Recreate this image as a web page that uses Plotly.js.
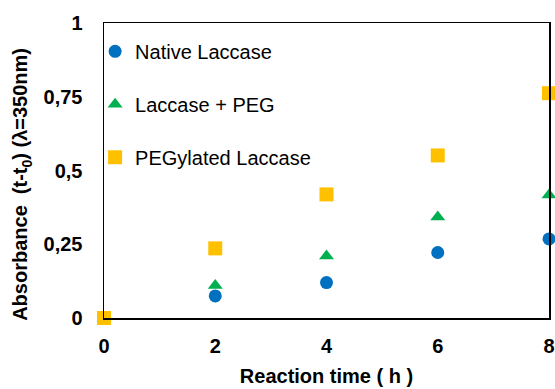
<!DOCTYPE html>
<html>
<head>
<meta charset="utf-8">
<script src="https://cdn.plot.ly/plotly-3.0.1.min.js"></script>
<style>html,body{margin:0;padding:0;background:#fff;}#chart{width:555px;height:389px;}</style>
</head>
<body>
<div id="chart"></div>
<script>
const timeH = [0, 2, 4, 6, 8];
const nativeLaccase = [0, 0.075, 0.12, 0.222, 0.268];
const laccasePEG = [0, 0.11, 0.21, 0.342, 0.417];
const pegylatedLaccase = [0, 0.236, 0.419, 0.551, 0.762];
const seriesNames = ['Native Laccase', 'Laccase + PEG', 'PEGylated Laccase'];
const xTicks = [0, 2, 4, 6, 8];
const yTicks = [0, 0.25, 0.5, 0.75, 1];
const yTickText = ['0', '0,25', '0,5', '0,75', '1'];

const font = 'Arial, "Liberation Sans", sans-serif';
const traces = [
  {x: timeH, y: nativeLaccase, name: seriesNames[0], legendgroup: 'a', type: 'scatter', mode: 'markers', cliponaxis: false,
   marker: {symbol: 'circle', size: 13, color: '#0070C0'}},
  {x: timeH, y: laccasePEG, name: seriesNames[1], legendgroup: 'b', type: 'scatter', mode: 'markers', cliponaxis: false,
   marker: {symbol: 'triangle-up', size: 13, color: '#00B050'}},
  {x: timeH, y: pegylatedLaccase, name: seriesNames[2], legendgroup: 'c', type: 'scatter', mode: 'markers', cliponaxis: false,
   marker: {symbol: 'square', size: 14, color: '#FFC000'}}
];

const layout = {
  width: 555, height: 389,
  margin: {l: 104, r: 6, t: 23, b: 71},
  paper_bgcolor: '#fff', plot_bgcolor: '#fff',
  font: {family: font, color: '#000'},
  showlegend: true,
  legend: {x: -0.02, y: 0.97, xanchor: 'left', yanchor: 'top', bgcolor: 'rgba(0,0,0,0)',
           font: {family: font, size: 20, color: '#000'}, traceorder: 'grouped', tracegroupgap: 24, itemwidth: 30},
  xaxis: {range: [0, 8], tickvals: xTicks, ticks: '', showgrid: false, zeroline: false,
          showline: true, mirror: true, linecolor: '#000', linewidth: 1.5,
          tickfont: {family: font, size: 20, color: '#000', weight: 'bold'}, ticklabelstandoff: 9,
          title: {text: '<b>Reaction time ( h )</b>', font: {family: font, size: 20, color: '#000'}, standoff: 13}},
  yaxis: {range: [0, 1], tickvals: yTicks, ticktext: yTickText, ticks: '', showgrid: false, zeroline: false,
          showline: true, mirror: true, linecolor: '#000', linewidth: 1.5,
          tickfont: {family: font, size: 20, color: '#000', weight: 'bold'}, ticklabelstandoff: 16,
          title: {text: '<b>Absorbance  (t-t<sub>0</sub>) (λ=350nm)</b>&nbsp;&nbsp;&nbsp;&nbsp;&nbsp;', font: {family: font, size: 20, color: '#000'}, standoff: 10}}
};
Plotly.newPlot('chart', traces, layout, {displayModeBar: false, staticPlot: true});
</script>
</body>
</html>
